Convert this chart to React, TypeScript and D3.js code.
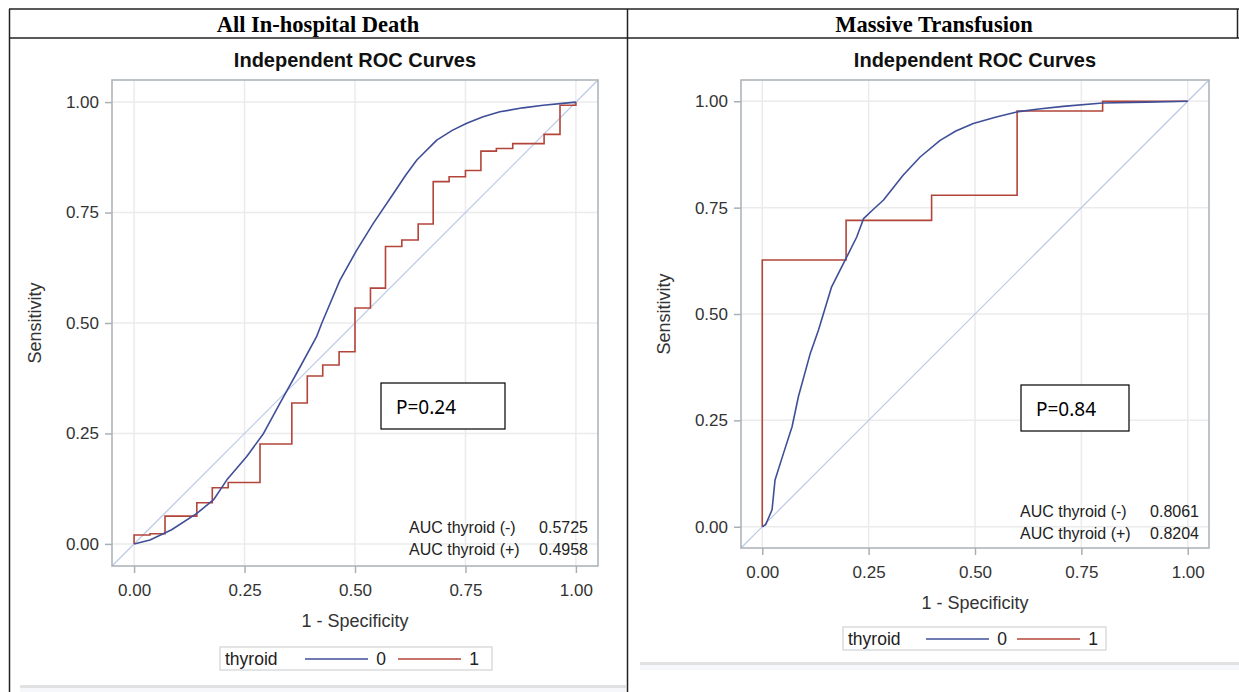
import React, { useEffect, useRef } from 'react'
import * as d3 from 'd3'

// shared axis ticks
const tickValues = [0, 0.25, 0.5, 0.75, 1]
const tickLabels = ['0.00', '0.25', '0.50', '0.75', '1.00']
const legendItems = ['0', '1']

// All In-hospital Death, thyroid = 0 (smooth curve)
const deathFpr0 = [0, 0.036, 0.085, 0.142, 0.18, 0.21, 0.255, 0.293, 0.33, 0.376, 0.413, 0.425, 0.447, 0.466, 0.504, 0.541, 0.587, 0.615, 0.64, 0.685, 0.72, 0.753, 0.79, 0.828, 0.88, 0.926, 0.97, 1]
const deathTpr0 = [0, 0.009, 0.032, 0.069, 0.1, 0.145, 0.198, 0.25, 0.318, 0.401, 0.469, 0.5, 0.552, 0.597, 0.665, 0.725, 0.793, 0.835, 0.869, 0.914, 0.936, 0.952, 0.967, 0.978, 0.987, 0.993, 0.997, 1]
// thyroid = 1 (step curve: x where the rise happens, y after the rise)
const deathFpr1 = [0, 0, 0.036, 0.07, 0.142, 0.177, 0.213, 0.285, 0.357, 0.392, 0.427, 0.464, 0.5, 0.535, 0.569, 0.606, 0.643, 0.677, 0.713, 0.75, 0.785, 0.82, 0.857, 0.928, 0.964, 1]
const deathTpr1 = [0, 0.02, 0.023, 0.063, 0.093, 0.127, 0.139, 0.226, 0.319, 0.38, 0.405, 0.435, 0.534, 0.579, 0.673, 0.688, 0.724, 0.82, 0.831, 0.845, 0.889, 0.895, 0.906, 0.927, 0.993, 1]
const deathAuc = ['0.5725', '0.4958']

// Massive Transfusion
const mtFpr0 = [0, 0.008, 0.023, 0.03, 0.05, 0.07, 0.085, 0.113, 0.132, 0.163, 0.195, 0.222, 0.238, 0.26, 0.285, 0.331, 0.371, 0.418, 0.455, 0.496, 0.55, 0.598, 0.65, 0.707, 0.8, 0.903, 1]
const mtTpr0 = [0, 0.005, 0.04, 0.11, 0.173, 0.235, 0.306, 0.408, 0.462, 0.564, 0.627, 0.681, 0.724, 0.745, 0.768, 0.826, 0.869, 0.908, 0.93, 0.948, 0.963, 0.975, 0.982, 0.988, 0.996, 0.998, 1]
const mtFpr1 = [0, 0, 0.197, 0.398, 0.599, 0.8, 1]
const mtTpr1 = [0, 0.627, 0.72, 0.779, 0.977, 1, 1]
const mtAuc = ['0.8061', '0.8204']

const BLUE = '#3f4f97'
const RED = '#b2443a'
const SANS = '"Liberation Sans", Arial, sans-serif'

function drawPanel(svg, p) {
    const x = d3.scaleLinear().domain([-0.05, 1.05]).range([p.left, p.left + p.size])
    const y = d3.scaleLinear().domain([-0.05, 1.05]).range([p.top + p.size, p.top])
    const g = svg.append('g')

    // grid
    g.selectAll('.vg').data(tickValues).enter().append('line')
        .attr('x1', d => x(d)).attr('x2', d => x(d))
        .attr('y1', p.top).attr('y2', p.top + p.size)
        .attr('stroke', '#ebebeb').attr('stroke-width', 1.5)
    g.selectAll('.hg').data(tickValues).enter().append('line')
        .attr('y1', d => y(d)).attr('y2', d => y(d))
        .attr('x1', p.left).attr('x2', p.left + p.size)
        .attr('stroke', '#ebebeb').attr('stroke-width', 1.5)

    // diagonal
    g.append('line')
        .attr('x1', x(-0.05)).attr('y1', y(-0.05))
        .attr('x2', x(1.05)).attr('y2', y(1.05))
        .attr('stroke', '#b9c7e6').attr('stroke-width', 1.2)

    // curves
    const line = d3.line().x(d => x(d[0])).y(d => y(d[1]))
    const blue = p.fpr0.map((v, i) => [v, p.tpr0[i]])
    const red = p.fpr1.map((v, i) => [v, p.tpr1[i]])
    g.append('path').attr('d', line.curve(d3.curveStepAfter)(red))
        .attr('fill', 'none').attr('stroke', RED).attr('stroke-width', 1.6)
    g.append('path').attr('d', line.curve(d3.curveLinear)(blue))
        .attr('fill', 'none').attr('stroke', BLUE).attr('stroke-width', 1.6)
        .attr('stroke-linejoin', 'round')

    // frame
    g.append('rect')
        .attr('x', p.left).attr('y', p.top)
        .attr('width', p.size).attr('height', p.size)
        .attr('fill', 'none').attr('stroke', '#a9b0b5').attr('stroke-width', 1.5)

    // axes
    const fmt = (d, i) => tickLabels[i]
    const xAxis = g.append('g')
        .attr('transform', 'translate(0,' + (p.top + p.size) + ')')
        .call(d3.axisBottom(x).tickValues(tickValues).tickFormat(fmt).tickSize(7).tickPadding(11))
    const yAxis = g.append('g')
        .attr('transform', 'translate(' + p.left + ',0)')
        .call(d3.axisLeft(y).tickValues(tickValues).tickFormat(fmt).tickSize(7).tickPadding(6))
    for (const a of [xAxis, yAxis]) {
        a.select('.domain').remove()
        a.selectAll('line').attr('stroke', '#a9b0b5').attr('stroke-width', 1.5)
        a.selectAll('text').attr('fill', '#333').style('font', '17px ' + SANS)
    }

    // titles
    g.append('text').attr('x', x(0.5)).attr('y', 67).attr('text-anchor', 'middle')
        .style('font', 'bold 20px ' + SANS).attr('fill', '#111').text('Independent ROC Curves')
    g.append('text').attr('x', x(0.5)).attr('y', p.top + p.size + 61).attr('text-anchor', 'middle')
        .style('font', '18px ' + SANS).attr('fill', '#333').text('1 - Specificity')
    g.append('text')
        .attr('transform', 'translate(' + (p.left - 71) + ',' + y(0.5) + ') rotate(-90)')
        .attr('text-anchor', 'middle')
        .style('font', '18px ' + SANS).attr('fill', '#333').text('Sensitivity')

    // AUC inset
    const aucNames = ['AUC thyroid (-)', 'AUC thyroid (+)']
    aucNames.forEach((n, i) => {
        const yy = p.aucY + i * 22
        g.append('text').attr('x', p.left + p.size - 189).attr('y', yy)
            .style('font', '16px ' + SANS).attr('fill', '#222').text(n)
        g.append('text').attr('x', p.left + p.size - 10).attr('y', yy).attr('text-anchor', 'end')
            .style('font', '16px ' + SANS).attr('fill', '#222').text(p.auc[i])
    })

    // P value box
    g.append('rect').attr('x', p.pBox[0]).attr('y', p.pBox[1])
        .attr('width', p.pBox[2]).attr('height', 46)
        .attr('fill', '#fff').attr('stroke', '#000').attr('stroke-width', 1.2)
    g.append('text').attr('x', p.pBox[0] + 15).attr('y', p.pBox[1] + 31)
        .style('font', '19px "Noto Sans", "Open Sans", sans-serif').attr('fill', '#000').text(p.pText)

    // legend
    const lg = g.append('g').attr('transform', 'translate(' + p.legend[0] + ',' + p.legend[1] + ')')
    lg.append('rect').attr('x', 0).attr('y', 0).attr('width', p.legend[2]).attr('height', 23)
        .attr('fill', '#fff').attr('stroke', '#cfd3d6').attr('stroke-width', 1.2)
    lg.append('text').attr('x', 5).attr('y', 18).style('font', '17.5px ' + SANS).attr('fill', '#222').text('thyroid')
    legendItems.forEach((k, i) => {
        const lx = p.legendX[i]
        lg.append('line').attr('x1', lx).attr('x2', lx + 63).attr('y1', 12).attr('y2', 12)
            .attr('stroke', i === 0 ? BLUE : RED).attr('stroke-width', 1.5)
        lg.append('text').attr('x', lx + 76).attr('y', 18).attr('text-anchor', 'middle')
            .style('font', '17.5px ' + SANS).attr('fill', '#222').text(k)
    })
}

export default function App() {
    const ref = useRef(null)
    useEffect(() => {
        const svg = d3.select(ref.current)
        svg.selectAll('*').remove()

        // table frame
        const t = svg.append('g').attr('stroke', '#222').attr('stroke-width', 1.5)
        t.append('line').attr('x1', 9).attr('x2', 1239).attr('y1', 9).attr('y2', 9)
        t.append('line').attr('x1', 9).attr('x2', 1239).attr('y1', 38).attr('y2', 38)
        t.append('line').attr('x1', 9.5).attr('x2', 9.5).attr('y1', 9).attr('y2', 692)
        t.append('line').attr('x1', 627.5).attr('x2', 627.5).attr('y1', 9).attr('y2', 692)
        t.append('line').attr('x1', 1237.5).attr('x2', 1237.5).attr('y1', 9).attr('y2', 38)

        svg.append('text').attr('x', 318).attr('y', 32).attr('text-anchor', 'middle')
            .style('font', 'bold 22.5px "Liberation Serif", "Times New Roman", serif').text('All In-hospital Death')
        svg.append('text').attr('x', 934).attr('y', 32).attr('text-anchor', 'middle')
            .style('font', 'bold 22.5px "Liberation Serif", "Times New Roman", serif').text('Massive Transfusion')

        // bottom strips under each graph
        svg.append('rect').attr('x', 20).attr('y', 685).attr('width', 606).attr('height', 3).attr('fill', '#dfe1e3')
        svg.append('rect').attr('x', 20).attr('y', 688).attr('width', 606).attr('height', 4).attr('fill', '#f5f7fa')
        svg.append('rect').attr('x', 640).attr('y', 662).attr('width', 599).attr('height', 3).attr('fill', '#dfe1e3')
        svg.append('rect').attr('x', 640).attr('y', 665).attr('width', 599).attr('height', 5).attr('fill', '#f5f7fa')

        drawPanel(svg, {
            left: 112, top: 80, size: 486,
            fpr0: deathFpr0, tpr0: deathTpr0, fpr1: deathFpr1, tpr1: deathTpr1,
            auc: deathAuc, aucY: 533, pBox: [381, 383, 124], pText: 'P=0.24',
            legend: [220, 647, 272], legendX: [85, 178]
        })
        drawPanel(svg, {
            left: 741, top: 80, size: 468,
            fpr0: mtFpr0, tpr0: mtTpr0, fpr1: mtFpr1, tpr1: mtTpr1,
            auc: mtAuc, aucY: 517, pBox: [1021, 385, 108], pText: 'P=0.84',
            legend: [843, 627, 263], legendX: [83, 174]
        })
    }, [])

    return (
        <svg ref={ref} width={1239} height={692}
            style={{ position: 'absolute', left: 0, top: 0, background: '#fff' }} />
    )
}
